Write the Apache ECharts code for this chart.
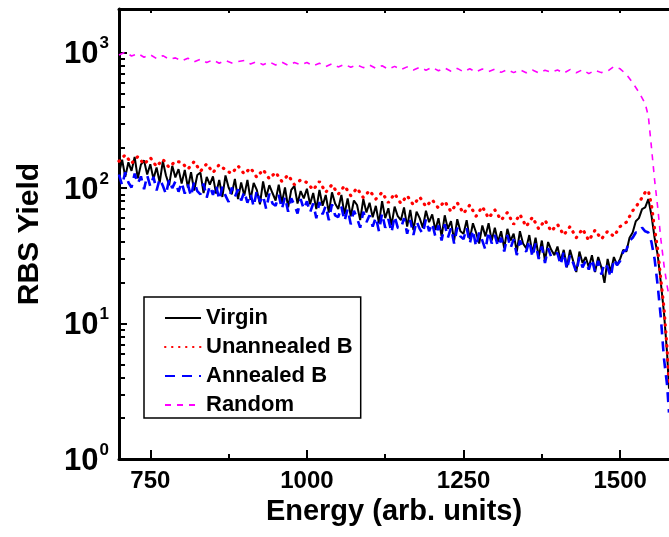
<!DOCTYPE html>
<html>
<head>
<meta charset="utf-8">
<title>RBS Yield</title>
<script src="https://cdn.jsdelivr.net/npm/echarts@6/dist/echarts.min.js"></script>
<style>
    html, body { margin: 0; padding: 0; background: #fff; }
    #chart { width: 669px; height: 537px; }
</style>
</head>
<body>
<div id="chart"></div>
<script>
'use strict';

// 能量道址 (细: 5 单位一步)
var energyFine = [
    700, 705, 710, 715, 720, 725, 730, 735, 740, 745,
    750, 755, 760, 765, 770, 775, 780, 785, 790, 795,
    800, 805, 810, 815, 820, 825, 830, 835, 840, 845,
    850, 855, 860, 865, 870, 875, 880, 885, 890, 895,
    900, 905, 910, 915, 920, 925, 930, 935, 940, 945,
    950, 955, 960, 965, 970, 975, 980, 985, 990, 995,
    1000, 1005, 1010, 1015, 1020, 1025, 1030, 1035, 1040, 1045,
    1050, 1055, 1060, 1065, 1070, 1075, 1080, 1085, 1090, 1095,
    1100, 1105, 1110, 1115, 1120, 1125, 1130, 1135, 1140, 1145,
    1150, 1155, 1160, 1165, 1170, 1175, 1180, 1185, 1190, 1195,
    1200, 1205, 1210, 1215, 1220, 1225, 1230, 1235, 1240, 1245,
    1250, 1255, 1260, 1265, 1270, 1275, 1280, 1285, 1290, 1295,
    1300, 1305, 1310, 1315, 1320, 1325, 1330, 1335, 1340, 1345,
    1350, 1355, 1360, 1365, 1370, 1375, 1380, 1385, 1390, 1395,
    1400, 1405, 1410, 1415, 1420, 1425, 1430, 1435, 1440, 1445,
    1450, 1455, 1460, 1465, 1470, 1475, 1480, 1485, 1490, 1495,
    1500, 1505, 1510, 1515, 1520, 1525, 1530, 1535, 1540, 1545,
    1550, 1555, 1560, 1565, 1570, 1575, 1578
];

// 能量道址 (粗: 10 单位一步, 边缘处加密)
var energyCoarse = [
    700, 710, 720, 730, 740, 750, 760, 770, 780, 790,
    800, 810, 820, 830, 840, 850, 860, 870, 880, 890,
    900, 910, 920, 930, 940, 950, 960, 970, 980, 990,
    1000, 1010, 1020, 1030, 1040, 1050, 1060, 1070, 1080, 1090,
    1100, 1110, 1120, 1130, 1140, 1150, 1160, 1170, 1180, 1190,
    1200, 1210, 1220, 1230, 1240, 1250, 1260, 1270, 1280, 1290,
    1300, 1310, 1320, 1330, 1340, 1350, 1360, 1370, 1380, 1390,
    1400, 1410, 1420, 1430, 1440, 1450, 1460, 1470, 1480, 1490,
    1500, 1510, 1520, 1530, 1540,
    1545, 1550, 1555, 1560, 1565, 1570, 1575, 1578
];

// Virgin (对应 energyFine)
var virginYield = [
    128, 162, 121, 155, 134, 170, 118, 149, 160, 126,
    150, 117, 142, 110, 158, 124, 105, 146, 120, 138,
    108, 136, 101, 131, 96, 125, 130, 92, 121, 106,
    122, 91, 115, 86, 124, 101, 90, 117, 83, 110,
    88, 115, 82, 109, 97, 76, 112, 86, 105, 92,
    81, 106, 78, 101, 72, 97, 104, 77, 95, 84,
    99, 76, 92, 70, 97, 74, 89, 66, 93, 77,
    70, 89, 64, 84, 62, 81, 75, 58, 83, 66,
    78, 61, 74, 55, 80, 60, 71, 53, 73, 62,
    58, 72, 52, 69, 49, 67, 60, 51, 68, 56,
    64, 49, 60, 44, 63, 50, 57, 41, 59, 48,
    46, 58, 42, 55, 47, 39, 53, 44, 55, 41,
    51, 40, 48, 36, 50, 41, 46, 34, 48, 39,
    36, 45, 33, 43, 31, 41, 29, 40, 35, 32,
    37, 29, 35, 26, 35, 29, 24, 34, 28, 31,
    26, 32, 24, 31, 26, 20, 30, 24, 31, 27,
    30, 35, 34, 43, 47, 57, 60, 70, 72, 83,
    63, 43, 32, 20, 12, 6, 3.3
];

// Annealed B (对应 energyFine)
var annealedYield = [
    126, 105, 131, 110, 101, 128, 108, 122, 98, 124,
    103, 121, 96, 117, 104, 90, 116, 100, 112, 94,
    110, 91, 106, 87, 112, 95, 90, 108, 85, 104,
    89, 105, 82, 102, 88, 79, 101, 86, 98, 81,
    94, 78, 91, 73, 96, 79, 88, 70, 91, 77,
    74, 89, 70, 86, 67, 84, 75, 65, 83, 70,
    80, 66, 77, 60, 79, 64, 74, 58, 76, 63,
    61, 73, 57, 70, 54, 68, 60, 51, 67, 56,
    63, 52, 61, 48, 65, 51, 59, 47, 62, 51,
    50, 60, 46, 58, 45, 57, 50, 46, 59, 48,
    55, 44, 53, 41, 54, 43, 51, 39, 51, 44,
    42, 51, 39, 49, 37, 47, 41, 35, 48, 39,
    45, 37, 43, 34, 45, 36, 42, 32, 41, 36,
    34, 41, 31, 39, 30, 37, 28, 36, 31, 33,
    33, 27, 34, 25, 32, 28, 24, 31, 26, 29,
    25, 30, 24, 29, 23, 28, 26, 22, 30, 27,
    29, 34, 35, 41, 43, 47, 47, 51, 48, 47,
    40, 30, 19, 11, 5.5, 3.5, 2.2
];

// Unannealed B (对应 energyCoarse)
var unannealedYield = [
    158, 176, 152, 171, 150, 168, 144, 163, 142, 158,
    155, 138, 157, 133, 151, 130, 149, 136, 128, 146,
    127, 141, 120, 137, 117, 131, 112, 125, 106, 115,
    110, 97, 112, 93, 106, 90, 104, 88, 100, 85,
    96, 83, 93, 78, 91, 77, 88, 75, 86, 73,
    82, 71, 80, 67, 78, 65, 75, 62, 73, 60,
    69, 58, 66, 54, 64, 52, 61, 50, 58, 48,
    54, 45, 52, 43, 50, 41, 49, 42, 48, 44,
    52, 56, 68, 78, 93,
    96, 75, 50, 35, 21, 13, 6.5, 3.6
];

// Random (对应 energyCoarse)
var randomYield = [
    960, 1010, 945, 985, 925, 965, 905, 950, 895, 915,
    870, 910, 855, 895, 845, 885, 835, 875, 840, 860,
    875, 825, 860, 815, 855, 810, 850, 805, 845, 815,
    845, 800, 835, 790, 828, 785, 820, 780, 812, 775,
    810, 765, 800, 755, 792, 750, 785, 745, 780, 742,
    778, 735, 770, 728, 765, 722, 760, 720, 758, 725,
    755, 715, 750, 712, 748, 710, 745, 708, 742, 715,
    745, 705, 750, 710, 748, 700, 742, 712, 730, 790,
    760, 690, 600, 510, 420,
    340, 200, 115, 72, 42, 27, 19, 16
];

// 坐标刻度
var xMajorTicks = [750, 1000, 1250, 1500];
var xMinorTicks = [875, 1125, 1375];
var yMajorTicks = [1, 10, 100, 1000];
var yMinorTicks = [2, 3, 4, 5, 6, 7, 8, 9, 20, 30, 40, 50, 60, 70, 80, 90,
    200, 300, 400, 500, 600, 700, 800, 900];

var seriesNames = ['Virgin', 'Unannealed B', 'Annealed B', 'Random'];

var FONT = '"Liberation Sans", Arial, sans-serif';
var xMin = 700, xMax = 1578, yMin = 1, yMax = 2100;

// 合并 x / y 数组
var zip = function(xs, ys) {
    var out = [];
    for (var i = 0; i < xs.length; i++) {
        out.push([xs[i], ys[i]]);
    }
    return out;
};

// 10 的幂次标签
var supDigits = function(v) {
    var p = Math.round(Math.log(v) / Math.LN10);
    return '{b|10}{s|' + p + '}';
};

// 只画刻度的辅助轴
var tickAxis = function(type, position, min, max, values, len) {
    return {
        type: type,
        position: position,
        min: min,
        max: max,
        axisLine: { show: false },
        axisTick: { inside: true, length: len, lineStyle: { width: 2, color: '#000' }, customValues: values },
        axisLabel: { show: false },
        splitLine: { show: false }
    };
};

var chart = echarts.init(document.getElementById('chart'), null, { renderer: 'canvas' });

var option = {
    animation: false,
    backgroundColor: '#fff',
    grid: { left: 119, right: 0, top: 9, bottom: 78 },
    legend: {
        orient: 'vertical',
        left: 144,
        top: 297,
        data: seriesNames,
        borderColor: '#000',
        borderWidth: 1.5,
        padding: [10, 8, 2, 20],
        itemWidth: 36,
        itemHeight: 14,
        itemGap: 7,
        itemStyle: { opacity: 0 },
        textStyle: { fontSize: 22, fontWeight: 'bold', color: '#000', fontFamily: FONT }
    },
    xAxis: [{
        type: 'value',
        position: 'bottom',
        min: xMin,
        max: xMax,
        name: 'Energy (arb. units)',
        nameLocation: 'middle',
        nameGap: 37,
        nameTextStyle: { fontSize: 29, fontWeight: 'bold', color: '#000', fontFamily: FONT },
        axisLine: { lineStyle: { color: '#000', width: 3 } },
        axisTick: { show: false },
        axisLabel: {
            margin: 10, fontSize: 24, fontWeight: 'bold', color: '#000', fontFamily: FONT,
            customValues: xMajorTicks,
            formatter: function(v) { return String(v); }
        },
        splitLine: { show: false }
    },
    tickAxis('value', 'bottom', xMin, xMax, xMajorTicks, 9),
    tickAxis('value', 'bottom', xMin, xMax, xMinorTicks, 5),
    {
        type: 'value',
        position: 'top',
        min: xMin,
        max: xMax,
        axisLine: { lineStyle: { color: '#000', width: 3 } },
        axisTick: { inside: true, length: 4, lineStyle: { width: 2, color: '#000' }, customValues: xMajorTicks.concat(xMinorTicks) },
        axisLabel: { show: false },
        splitLine: { show: false }
    }],
    yAxis: [{
        type: 'log',
        logBase: 10,
        position: 'left',
        min: yMin,
        max: yMax,
        name: 'RBS Yield',
        nameLocation: 'middle',
        nameGap: 74,
        nameTextStyle: { fontSize: 30, fontWeight: 'bold', color: '#000', fontFamily: FONT },
        axisLine: { lineStyle: { color: '#000', width: 3 } },
        axisTick: { inside: true, length: 8, lineStyle: { width: 2, color: '#000' } },
        axisLabel: {
            margin: 10,
            customValues: yMajorTicks,
            formatter: supDigits,
            rich: {
                b: { fontSize: 31, fontWeight: 'bold', color: '#000', fontFamily: FONT, verticalAlign: 'bottom' },
                s: { fontSize: 17, fontWeight: 'bold', color: '#000', fontFamily: FONT, padding: [0, 0, 18, 1] }
            }
        },
        splitLine: { show: false }
    },
    tickAxis('log', 'left', yMin, yMax, yMinorTicks, 6)],
    series: [{
        name: 'Virgin',
        type: 'line',
        symbol: 'none',
        data: zip(energyFine, virginYield),
        lineStyle: { color: '#000', width: 2 },
        itemStyle: { color: '#000' }
    }, {
        name: 'Unannealed B',
        type: 'line',
        symbol: 'none',
        data: zip(energyCoarse, unannealedYield),
        lineStyle: { color: '#ff0000', width: 3.2, type: [0.5, 6.5], cap: 'round' },
        itemStyle: { color: '#ff0000' }
    }, {
        name: 'Annealed B',
        type: 'line',
        symbol: 'none',
        data: zip(energyFine, annealedYield),
        lineStyle: { color: '#0000ff', width: 2.6, type: [10, 7] },
        itemStyle: { color: '#0000ff' }
    }, {
        name: 'Random',
        type: 'line',
        symbol: 'none',
        data: zip(energyCoarse, randomYield),
        lineStyle: { color: '#ff00ff', width: 1.6, type: [6, 6] },
        itemStyle: { color: '#ff00ff' }
    }]
};

chart.setOption(option);
</script>
</body>
</html>
